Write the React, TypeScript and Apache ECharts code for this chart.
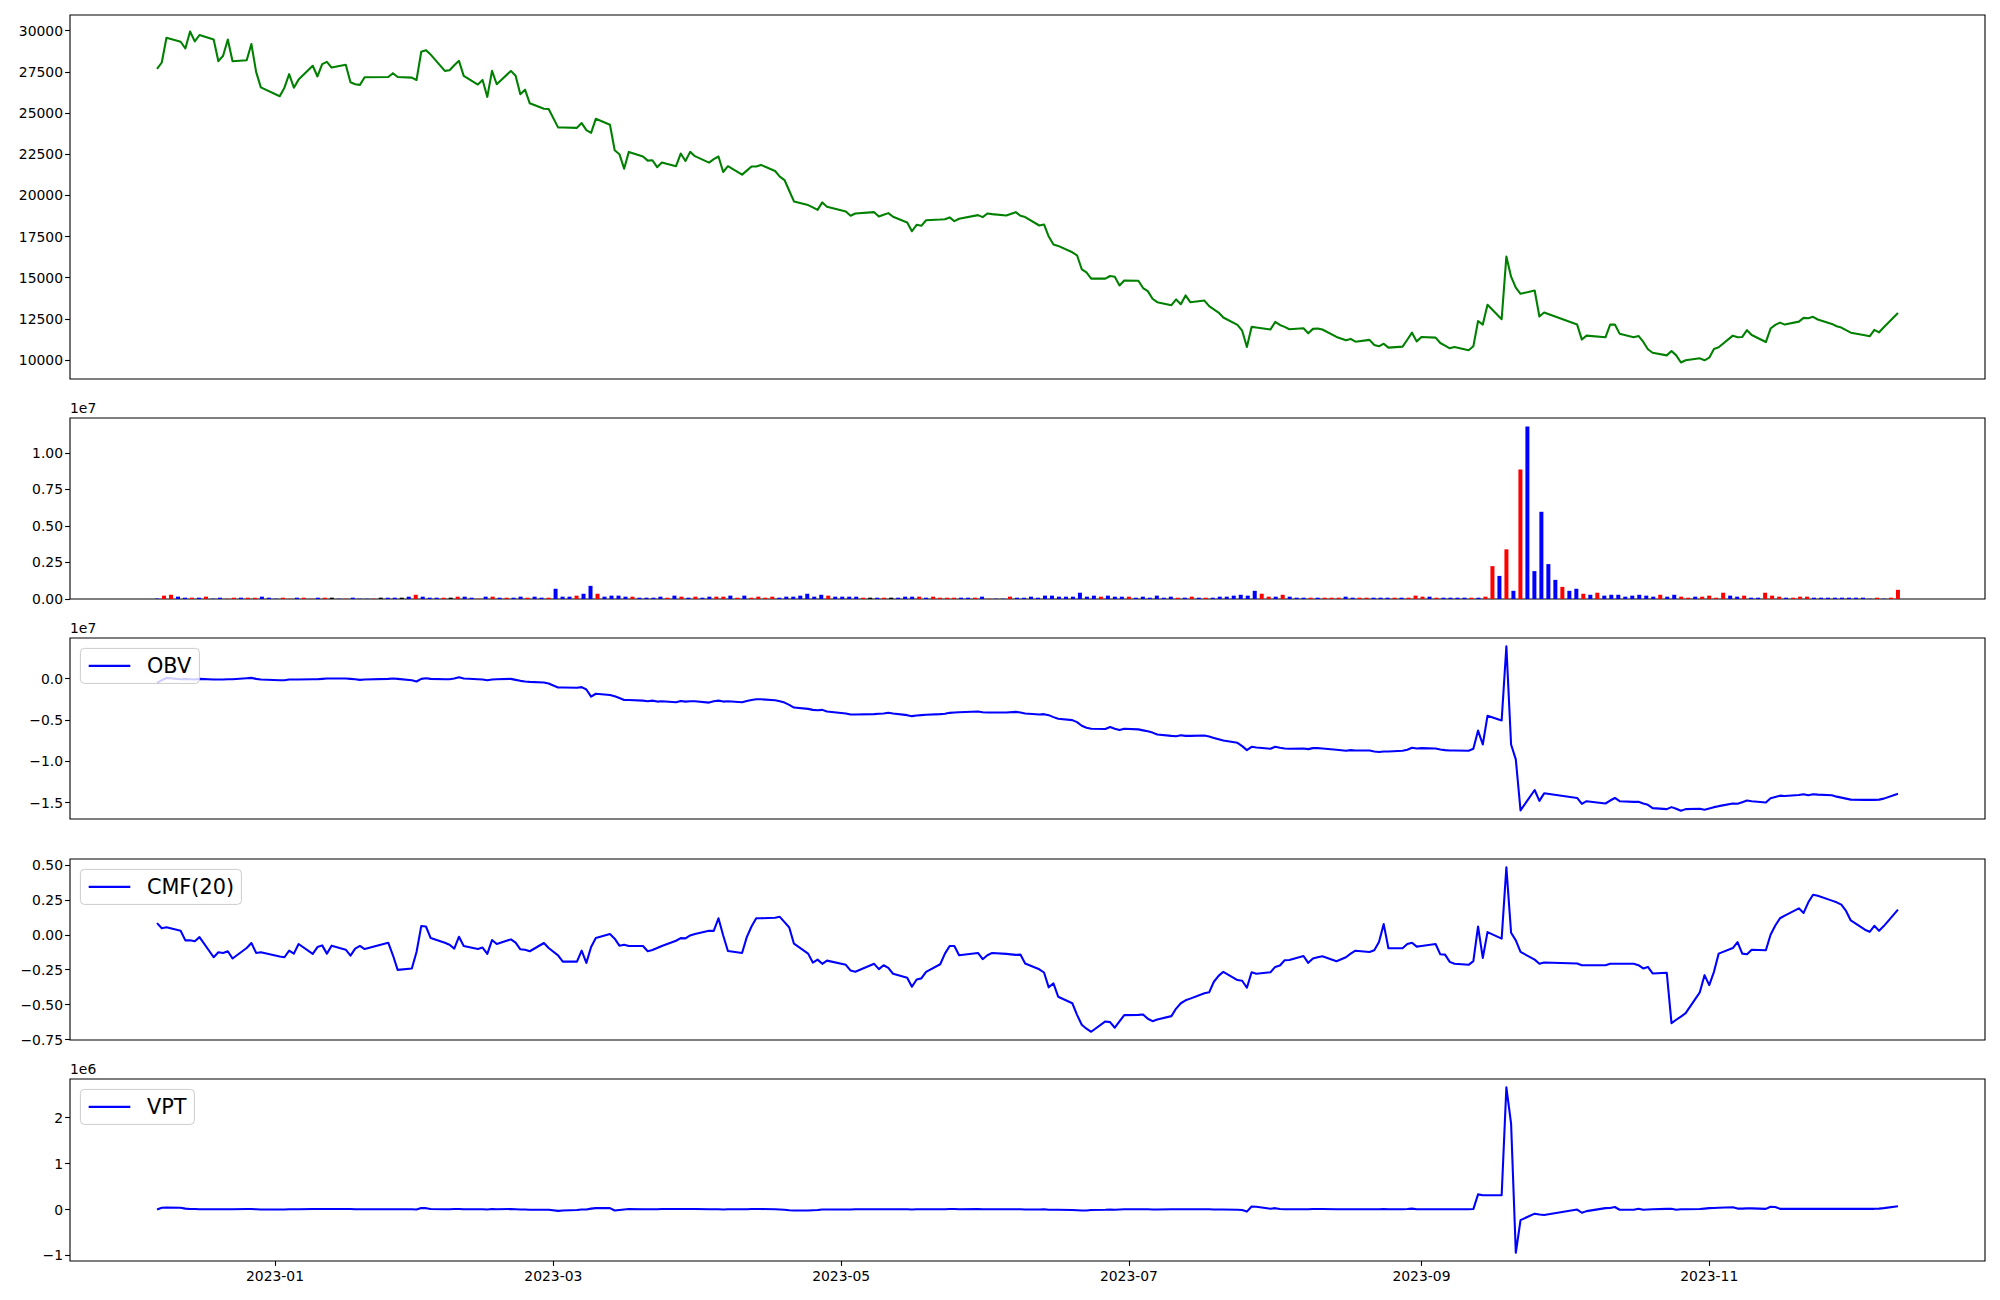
import React, { useEffect, useRef } from "react";
import * as echarts from "echarts";

// ---------------- DATA ----------------
const dates = [
  "2022-12-07","2022-12-08","2022-12-09","2022-12-12","2022-12-13","2022-12-14","2022-12-15","2022-12-16","2022-12-19","2022-12-20","2022-12-21","2022-12-22","2022-12-23","2022-12-26","2022-12-27","2022-12-28","2022-12-29",
  "2023-01-02","2023-01-03","2023-01-04","2023-01-05","2023-01-06","2023-01-09","2023-01-10","2023-01-11","2023-01-12","2023-01-13","2023-01-16","2023-01-17","2023-01-18","2023-01-19","2023-01-20","2023-01-25","2023-01-26","2023-01-27","2023-01-30","2023-01-31",
  "2023-02-01","2023-02-02","2023-02-03","2023-02-06","2023-02-07","2023-02-08","2023-02-09","2023-02-10","2023-02-13","2023-02-14","2023-02-15","2023-02-16","2023-02-17","2023-02-20","2023-02-21","2023-02-22","2023-02-23","2023-02-24","2023-02-27","2023-02-28",
  "2023-03-02","2023-03-03","2023-03-06","2023-03-07","2023-03-08","2023-03-09","2023-03-10","2023-03-13","2023-03-14","2023-03-15","2023-03-16","2023-03-17","2023-03-20","2023-03-21","2023-03-22","2023-03-23","2023-03-24","2023-03-27","2023-03-28","2023-03-29","2023-03-30","2023-03-31",
  "2023-04-03","2023-04-04","2023-04-05","2023-04-06","2023-04-07","2023-04-10","2023-04-11","2023-04-12","2023-04-13","2023-04-14","2023-04-17","2023-04-18","2023-04-19","2023-04-20","2023-04-21","2023-04-24","2023-04-25","2023-04-26","2023-04-27","2023-04-28",
  "2023-05-02","2023-05-03","2023-05-04","2023-05-08","2023-05-09","2023-05-10","2023-05-11","2023-05-12","2023-05-15","2023-05-16","2023-05-17","2023-05-18","2023-05-19","2023-05-22","2023-05-23","2023-05-24","2023-05-25","2023-05-26","2023-05-30","2023-05-31",
  "2023-06-01","2023-06-02","2023-06-05","2023-06-07","2023-06-08","2023-06-09","2023-06-12","2023-06-13","2023-06-14","2023-06-15","2023-06-16","2023-06-19","2023-06-20","2023-06-21","2023-06-22","2023-06-23","2023-06-26","2023-06-27","2023-06-28","2023-06-29","2023-06-30",
  "2023-07-03","2023-07-04","2023-07-05","2023-07-06","2023-07-07","2023-07-10","2023-07-11","2023-07-12","2023-07-13","2023-07-14","2023-07-17","2023-07-18","2023-07-19","2023-07-20","2023-07-21","2023-07-24","2023-07-25","2023-07-26","2023-07-27","2023-07-28","2023-07-31",
  "2023-08-01","2023-08-02","2023-08-03","2023-08-04","2023-08-07","2023-08-08","2023-08-09","2023-08-10","2023-08-11","2023-08-14","2023-08-16","2023-08-17","2023-08-18","2023-08-21","2023-08-22","2023-08-23","2023-08-24","2023-08-25","2023-08-28","2023-08-29","2023-08-30","2023-08-31",
  "2023-09-01","2023-09-04","2023-09-05","2023-09-06","2023-09-07","2023-09-08","2023-09-11","2023-09-12","2023-09-13","2023-09-14","2023-09-15","2023-09-18","2023-09-19","2023-09-20","2023-09-21","2023-09-22","2023-09-25","2023-09-26","2023-09-27",
  "2023-10-04","2023-10-05","2023-10-06","2023-10-10","2023-10-11","2023-10-12","2023-10-13","2023-10-16","2023-10-17","2023-10-18","2023-10-19","2023-10-20","2023-10-23","2023-10-24","2023-10-25","2023-10-26","2023-10-27","2023-10-30","2023-10-31",
  "2023-11-01","2023-11-02","2023-11-03","2023-11-06","2023-11-07","2023-11-08","2023-11-09","2023-11-10","2023-11-13","2023-11-14","2023-11-15","2023-11-16","2023-11-17","2023-11-20","2023-11-21","2023-11-22","2023-11-23","2023-11-24","2023-11-27","2023-11-28","2023-11-29","2023-11-30",
  "2023-12-01","2023-12-04","2023-12-05","2023-12-06","2023-12-07","2023-12-08","2023-12-11"
];

const closePrice = [
  27680,28070,29570,29330,28920,29950,29350,29740,29470,28150,28480,29470,28150,28210,29190,27500,26560,
  26020,26540,27360,26540,27030,27870,27220,27970,28110,27760,27930,26870,26750,26710,27170,27190,27420,27190,27150,27010,
  28720,28820,28550,27560,27600,27900,28170,27260,26730,27010,25980,27560,26750,27560,27260,26140,26420,25590,25260,25240,
  24130,24120,24100,24390,23960,23800,24650,24290,22740,22500,21620,22640,22360,22110,22130,21710,21990,21770,22540,22090,22640,22380,
  21990,22200,22360,21420,21770,21260,21500,21750,21750,21850,21480,21140,20930,20280,19630,19410,19270,19120,19570,19310,
  19020,18760,18900,18980,18720,18820,18920,18700,18350,17820,18210,18150,18490,18530,18550,18660,18430,18580,18800,18680,
  18900,18860,18780,18980,18760,18680,18170,18230,17500,17010,16930,16540,16360,15510,15320,14940,14940,15100,15060,14530,14830,
  14810,14370,14180,13720,13510,13330,13680,13390,13920,13510,13610,13270,13070,12880,12580,12130,11780,10790,12010,11970,11850,
  12310,12130,12010,11870,11930,11620,11890,11910,11850,11400,11200,11280,11110,11220,10910,10830,10990,10750,10810,11230,11660,11130,
  11400,11360,11030,10870,10710,10790,10590,10830,12370,12150,13350,12480,16280,15060,14390,14020,14220,12640,12880,
  12150,11240,11480,11380,12150,12150,11600,11380,11460,11110,10650,10440,10280,10540,10280,9850,9980,10100,9980,
  10140,10670,10770,11480,11380,11400,11810,11520,11090,11910,12130,12270,12150,12330,12560,12540,12620,12460,12190,12050,11970,11810,
  11660,11500,11440,11830,11680,11990,12860
];

const volume = [
  30000,230000,290000,160000,90000,90000,90000,160000,20000,90000,
  20000,90000,90000,90000,90000,160000,90000,20000,90000,20000,
  90000,90000,20000,90000,90000,90000,20000,20000,90000,20000,
  20000,20000,90000,90000,90000,90000,160000,290000,160000,90000,
  90000,90000,90000,160000,160000,90000,20000,160000,160000,90000,
  90000,90000,160000,90000,160000,90000,90000,700000,160000,160000,
  230000,360000,900000,360000,160000,230000,230000,160000,160000,90000,
  90000,90000,160000,90000,230000,160000,90000,160000,90000,160000,
  160000,160000,230000,90000,230000,90000,160000,90000,160000,90000,
  160000,160000,230000,360000,160000,290000,230000,160000,160000,160000,
  160000,90000,90000,90000,90000,90000,90000,160000,160000,160000,
  90000,160000,90000,90000,90000,90000,90000,90000,160000,20000,
  20000,20000,160000,90000,90000,160000,90000,230000,230000,160000,
  160000,160000,430000,160000,230000,160000,230000,160000,160000,160000,
  90000,160000,90000,230000,90000,160000,90000,90000,160000,90000,
  90000,90000,160000,160000,230000,290000,230000,560000,360000,160000,
  160000,290000,160000,90000,90000,90000,90000,90000,90000,90000,
  160000,90000,90000,90000,90000,90000,90000,90000,90000,90000,
  230000,160000,160000,90000,90000,90000,90000,90000,90000,90000,
  160000,2250000,1580000,3400000,560000,8870000,11800000,1910000,5970000,2390000,
  1310000,830000,560000,700000,360000,290000,430000,230000,290000,290000,
  160000,230000,290000,230000,160000,290000,160000,290000,160000,90000,
  160000,160000,230000,90000,430000,230000,160000,230000,90000,90000,
  430000,230000,160000,90000,90000,160000,160000,90000,90000,90000,
  90000,90000,90000,90000,90000,20000,90000,20000,90000,630000
];

// r = up (red), b = down (blue), k = unchanged (black)
const volumeDir = [
  "b","r","r","b","b","r","b","r","b","b",
  "r","r","b","r","r","b","b","b","r","r",
  "b","r","r","b","r","k","b","r","b","b",
  "b","r","k","b","b","k","b","r","b","b",
  "b","r","k","r","b","b","r","b","r","b",
  "r","b","b","r","b","b","r","b","b","b",
  "r","b","b","r","b","b","b","b","r","b",
  "b","b","b","r","b","r","b","r","b","b",
  "r","r","b","r","b","r","r","r","r","b",
  "b","b","b","b","b","b","r","b","b","b",
  "b","r","k","b","r","k","b","b","b","r",
  "b","r","r","r","r","b","b","r","b","r",
  "b","b","r","b","b","b","b","b","b","b",
  "b","b","b","b","b","r","b","b","b","r",
  "b","b","b","b","b","b","r","b","r","b",
  "r","b","b","b","b","b","b","b","r","r",
  "b","r","b","b","b","r","b","r","r","r",
  "b","b","r","r","b","b","b","r","b","r",
  "r","r","b","r","b","b","b","b","r","b",
  "r","r","b","r","b","r","b","b","b","b",
  "b","r","b","b","r","b","r","b","b","b",
  "b","b","b","b","b","r","b","b","r","r",
  "b","r","r","r","r","b","b","r","b","b",
  "r","r","r","b","r","r","r","b","b","b",
  "b","b","b","b","b","b","r","b","r","r"
];

const obv = [
  -0.052e7,-0.020e7,0.008e7,-0.008e7,-0.004e7,-0.008e7,-0.012e7,-0.004e7,-0.012e7,-0.012e7,-0.012e7,-0.008e7,-0.008e7,0.004e7,0.008e7,-0.004e7,-0.012e7,
  -0.020e7,-0.020e7,-0.012e7,-0.012e7,-0.012e7,-0.008e7,-0.008e7,-0.004e7,0,0,0,-0.004e7,-0.008e7,-0.016e7,-0.012e7,-0.004e7,0,-0.004e7,-0.020e7,-0.036e7,
  -0.004e7,0.004e7,-0.004e7,-0.008e7,-0.008e7,0,0.016e7,0,-0.008e7,-0.012e7,-0.020e7,-0.012e7,-0.008e7,-0.004e7,-0.016e7,-0.028e7,-0.036e7,-0.040e7,-0.048e7,-0.060e7,
  -0.108e7,-0.108e7,-0.112e7,-0.104e7,-0.132e7,-0.219e7,-0.184e7,-0.200e7,-0.215e7,-0.235e7,-0.259e7,-0.259e7,-0.267e7,-0.275e7,-0.267e7,-0.279e7,-0.275e7,-0.287e7,-0.271e7,-0.279e7,-0.275e7,-0.275e7,
  -0.291e7,-0.275e7,-0.267e7,-0.279e7,-0.275e7,-0.287e7,-0.271e7,-0.259e7,-0.251e7,-0.251e7,-0.263e7,-0.275e7,-0.291e7,-0.319e7,-0.351e7,-0.367e7,-0.379e7,-0.383e7,-0.379e7,-0.399e7,
  -0.423e7,-0.435e7,-0.435e7,-0.431e7,-0.427e7,-0.423e7,-0.415e7,-0.423e7,-0.443e7,-0.455e7,-0.447e7,-0.443e7,-0.439e7,-0.431e7,-0.427e7,-0.415e7,-0.411e7,-0.407e7,-0.399e7,-0.407e7,
  -0.411e7,-0.411e7,-0.411e7,-0.403e7,-0.411e7,-0.423e7,-0.435e7,-0.431e7,-0.443e7,-0.467e7,-0.487e7,-0.503e7,-0.527e7,-0.571e7,-0.595e7,-0.607e7,-0.611e7,-0.587e7,-0.607e7,-0.623e7,-0.607e7,
  -0.615e7,-0.627e7,-0.638e7,-0.654e7,-0.678e7,-0.694e7,-0.698e7,-0.686e7,-0.694e7,-0.694e7,-0.690e7,-0.702e7,-0.718e7,-0.734e7,-0.750e7,-0.778e7,-0.818e7,-0.866e7,-0.826e7,-0.834e7,-0.850e7,
  -0.826e7,-0.838e7,-0.846e7,-0.850e7,-0.846e7,-0.854e7,-0.842e7,-0.842e7,-0.846e7,-0.862e7,-0.874e7,-0.866e7,-0.870e7,-0.870e7,-0.882e7,-0.890e7,-0.882e7,-0.882e7,-0.874e7,-0.862e7,-0.838e7,-0.846e7,
  -0.842e7,-0.846e7,-0.858e7,-0.866e7,-0.870e7,-0.870e7,-0.874e7,-0.850e7,-0.630e7,-0.798e7,-0.451e7,-0.507e7,0.391e7,-0.798e7,-0.978e7,-1.596e7,-1.349e7,-1.480e7,-1.389e7,
  -1.445e7,-1.516e7,-1.484e7,-1.512e7,-1.476e7,-1.445e7,-1.484e7,-1.492e7,-1.492e7,-1.512e7,-1.528e7,-1.568e7,-1.580e7,-1.556e7,-1.576e7,-1.600e7,-1.580e7,-1.576e7,-1.588e7,
  -1.572e7,-1.556e7,-1.544e7,-1.512e7,-1.516e7,-1.496e7,-1.476e7,-1.484e7,-1.500e7,-1.449e7,-1.433e7,-1.417e7,-1.421e7,-1.409e7,-1.401e7,-1.413e7,-1.401e7,-1.405e7,-1.413e7,-1.429e7,-1.441e7,-1.453e7,
  -1.465e7,-1.468e7,-1.468e7,-1.468e7,-1.465e7,-1.453e7,-1.393e7
];

const cmf20 = [
  0.083,0.047,0.054,0.028,-0.040,-0.040,-0.047,-0.017,-0.161,-0.125,-0.130,-0.118,-0.170,-0.095,-0.059,-0.130,-0.125,
  -0.156,-0.161,-0.114,-0.135,-0.066,-0.137,-0.088,-0.076,-0.135,-0.078,-0.107,-0.149,-0.099,-0.080,-0.102,-0.057,-0.147,-0.251,-0.241,-0.123,
  0.062,0.059,-0.024,-0.057,-0.071,-0.099,-0.014,-0.080,-0.102,-0.092,-0.137,-0.038,-0.066,-0.033,-0.057,-0.104,-0.107,-0.118,-0.059,-0.095,
  -0.147,-0.192,-0.192,-0.114,-0.201,-0.088,-0.024,0.005,-0.028,-0.078,-0.071,-0.080,-0.080,-0.118,-0.109,-0.095,-0.080,-0.043,-0.024,-0.026,-0.005,0.005,
  0.028,0.028,0.118,-0.005,-0.116,-0.130,-0.017,0.059,0.118,0.118,0.121,0.128,0.090,0.052,-0.064,-0.135,-0.199,-0.178,-0.208,-0.185,
  -0.215,-0.256,-0.265,-0.208,-0.246,-0.218,-0.237,-0.279,-0.308,-0.372,-0.320,-0.312,-0.265,-0.211,-0.135,-0.080,-0.080,-0.147,-0.130,-0.175,
  -0.147,-0.130,-0.137,-0.144,-0.142,-0.206,-0.247,-0.270,-0.376,-0.348,-0.443,-0.490,-0.573,-0.644,-0.672,-0.694,-0.620,-0.625,-0.665,-0.620,-0.575,
  -0.573,-0.571,-0.601,-0.618,-0.606,-0.582,-0.528,-0.490,-0.469,-0.457,-0.419,-0.412,-0.336,-0.294,-0.265,-0.324,-0.329,-0.379,-0.268,-0.279,-0.268,
  -0.230,-0.220,-0.182,-0.180,-0.152,-0.201,-0.170,-0.161,-0.154,-0.189,-0.161,-0.135,-0.114,-0.123,-0.111,-0.052,0.076,-0.097,-0.097,-0.066,-0.057,-0.085,
  -0.080,-0.066,-0.140,-0.142,-0.194,-0.208,-0.215,-0.189,0.059,-0.166,0.019,-0.028,0.483,0.014,-0.040,-0.123,-0.178,-0.208,-0.199,
  -0.206,-0.218,-0.218,-0.218,-0.208,-0.208,-0.208,-0.208,-0.218,-0.241,-0.230,-0.277,-0.272,-0.632,-0.608,-0.585,-0.561,-0.412,-0.289,
  -0.360,-0.265,-0.135,-0.095,-0.052,-0.135,-0.140,-0.107,-0.111,0.000,0.066,0.118,0.137,0.189,0.156,0.232,0.286,0.279,0.244,0.232,0.215,0.170,
  0.102,0.036,0.021,0.064,0.028,0.062,0.180
];

const vpt = [
  0,0.04e6,0.045e6,0.04e6,0.02e6,0.01e6,0.01e6,0.005e6,0.005e6,0.005e6,0.005e6,0.005e6,0.005e6,0.01e6,0.01e6,0.005e6,0,
  0,0,0.005e6,0.005e6,0.005e6,0.01e6,0.01e6,0.01e6,0.01e6,0.01e6,0.01e6,0.01e6,0.005e6,0.005e6,0.005e6,0.005e6,0.005e6,0.005e6,0.005e6,0,
  0.035e6,0.03e6,0.01e6,0.005e6,0.005e6,0.01e6,0.01e6,0.005e6,0.005e6,0.005e6,0,0.01e6,0.005e6,0.01e6,0.005e6,0,0,-0.005e6,-0.005e6,-0.005e6,
  -0.03e6,-0.02e6,-0.01e6,0,0,0.02e6,0.03e6,0.03e6,-0.02e6,-0.01e6,0,0.01e6,0.005e6,0.005e6,0.005e6,0.005e6,0.01e6,0.01e6,0.01e6,0.01e6,0.01e6,0.01e6,
  0.005e6,0.005e6,0.005e6,0,0.005e6,0.005e6,0.005e6,0.01e6,0.01e6,0.01e6,0.005e6,0,-0.005e6,-0.015e6,-0.02e6,-0.02e6,-0.015e6,-0.01e6,0,0,
  0,0,0.005e6,0.005e6,0.005e6,0.005e6,0.005e6,0.005e6,0.005e6,0,0.005e6,0.005e6,0.005e6,0.005e6,0.005e6,0.01e6,0.01e6,0.005e6,0.01e6,0.005e6,
  0.005e6,0.005e6,0.005e6,0.005e6,0.005e6,0,0,0.005e6,-0.005e6,-0.005e6,-0.005e6,-0.01e6,-0.015e6,-0.02e6,-0.02e6,-0.01e6,-0.005e6,0,-0.005e6,0,0.005e6,
  0.005e6,0.005e6,0.005e6,0,0,0.005e6,0.005e6,0.005e6,0.005e6,0.005e6,0.005e6,0.005e6,0,0,0,-0.005e6,-0.01e6,-0.045e6,0.065e6,0.06e6,0.015e6,
  0.03e6,0.01e6,0.005e6,0.005e6,0.005e6,0.005e6,0.01e6,0.01e6,0.01e6,0.005e6,0.005e6,0.005e6,0.005e6,0.005e6,0.005e6,0.005e6,0.01e6,0.005e6,0.005e6,0.01e6,0.02e6,0.005e6,
  0.005e6,0.005e6,0.005e6,0.005e6,0.005e6,0.005e6,0.005e6,0.01e6,0.33e6,0.31e6,0.31e6,0.31e6,2.66e6,1.87e6,-0.94e6,-0.23e6,-0.09e6,-0.11e6,-0.12e6,
  0,-0.07e6,-0.035e6,0.03e6,0.035e6,0.055e6,-0.005e6,-0.005e6,0.015e6,-0.005e6,0,0.005e6,0.015e6,0.015e6,-0.005e6,0.005e6,0.005e6,0.01e6,0.02e6,
  0.03e6,0.035e6,0.04e6,0.05e6,0.02e6,0.02e6,0.025e6,0.025e6,0.015e6,0.06e6,0.055e6,0.015e6,0.015e6,0.015e6,0.015e6,0.015e6,0.015e6,0.015e6,0.015e6,0.015e6,0.015e6,0.015e6,
  0.015e6,0.015e6,0.015e6,0.015e6,0.02e6,0.03e6,0.07e6
];

const xTickDates = ["2023-01-01","2023-03-01","2023-05-01","2023-07-01","2023-09-01","2023-11-01"];
const priceTicks = [10000,12500,15000,17500,20000,22500,25000,27500,30000];
const volumeTicks = [0,0.25e7,0.5e7,0.75e7,1.0e7];
const obvTicks = [0,-0.5e7,-1.0e7,-1.5e7];
const cmfTicks = [0.5,0.25,0,-0.25,-0.5,-0.75];
const vptTicks = [2e6,1e6,0,-1e6];
const legendNames = ["OBV","CMF(20)","VPT"];

// ---------------- HELPERS ----------------
const FONT = '"DejaVu Sans", Verdana, sans-serif';
const LW = 2.08; // 1.5pt at 100 dpi
const toTs = (s: string) => {
  const [y, m, d] = s.split("-").map(Number);
  return Date.UTC(y, m - 1, d);
};
const minus = (s: string) => s.replace("-", "\u2212");
const padRange = (arr: number[]) => {
  let mn = Infinity, mx = -Infinity;
  arr.forEach(v => { if (v < mn) mn = v; if (v > mx) mx = v; });
  const r = mx - mn;
  return [mn - 0.05 * r, mx + 0.05 * r];
};

export default function App() {
  const ref = useRef<HTMLDivElement>(null);

  useEffect(() => {
    if (!ref.current) return;
    const chart = echarts.init(ref.current, undefined, { renderer: "svg" });

    const ts = dates.map(toTs);
    const n = ts.length;
    const span = ts[n - 1] - ts[0];
    const xMin = ts[0] - 0.05 * span;
    const xMax = ts[n - 1] + 0.05 * span;
    const idxMin = -0.05 * (n - 1);
    const idxMax = (n - 1) * 1.05;
    const tickTs = xTickDates.map(toTs);

    const L = 70, W = 1915;
    const grids = [
      { top: 15, height: 364 },
      { top: 418, height: 181 },
      { top: 638, height: 181 },
      { top: 859, height: 181 },
      { top: 1079, height: 182 },
    ];

    const [pMin, pMax] = padRange(closePrice);
    const vMax = Math.max(...volume) * 1.05;
    const [oMin, oMax] = padRange(obv);
    const [cMin, cMax] = padRange(cmf20);
    const [tMin, tMax] = padRange(vpt);

    const labelStyle = { color: "#000", fontSize: 13.9, fontFamily: FONT };
    const tickStyle = { lineStyle: { color: "#000", width: 1.1 } };

    const mkY = (i: number, min: number, max: number, ticks: number[], fmt: (v: number) => string) => ({
      type: "value",
      gridIndex: i,
      position: "left",
      min,
      max,
      axisLine: { show: false, onZero: false },
      splitLine: { show: false },
      axisTick: { show: true, length: 4.9, inside: false, customValues: ticks, ...tickStyle },
      axisLabel: { show: true, margin: 7, customValues: ticks, formatter: fmt, ...labelStyle },
    });

    const mkX = (i: number, isIndex: boolean, bottom: boolean) => ({
      type: "value",
      gridIndex: i,
      position: "bottom",
      min: isIndex ? idxMin : xMin,
      max: isIndex ? idxMax : xMax,
      axisLine: { show: false, onZero: false },
      splitLine: { show: false },
      axisTick: bottom
        ? { show: true, length: 4.9, inside: false, customValues: tickTs, ...tickStyle }
        : { show: false },
      axisLabel: bottom
        ? {
            show: true,
            margin: 8,
            customValues: tickTs,
            formatter: (v: number) => {
              const d = new Date(v);
              return d.getUTCFullYear() + "-" + String(d.getUTCMonth() + 1).padStart(2, "0");
            },
            ...labelStyle,
          }
        : { show: false },
    });

    const colorMap: Record<string, string> = { r: "#ff0000", b: "#0000ff", k: "#000000" };
    const lineSeries = (i: number, vals: number[], color: string, name: string) => ({
      type: "line",
      name,
      xAxisIndex: i,
      yAxisIndex: i,
      data: ts.map((t, k) => [t, vals[k]]),
      symbol: "none",
      showSymbol: false,
      lineStyle: { color, width: LW, join: "round" },
      itemStyle: { color },
      silent: true,
    });

    const legendBox = (top: number, text: string, w: number) => {
      const bx = L + 10.4, by = top + 10.4, h = 35;
      const cy = by + h / 2;
      return [
        { type: "rect", shape: { x: bx, y: by, width: w, height: h, r: 4 }, style: { fill: "rgba(255,255,255,0.8)", stroke: "#cccccc", lineWidth: 1 }, z: 100 },
        { type: "line", shape: { x1: bx + 8.3, y1: cy, x2: bx + 8.3 + 41.6, y2: cy }, style: { stroke: "#0000ff", lineWidth: LW }, z: 101 },
        { type: "text", x: bx + 8.3 + 41.6 + 16.6, y: cy, style: { text, fill: "#000", fontSize: 20.8, fontFamily: FONT, verticalAlign: "middle", align: "left" }, z: 101 },
      ];
    };
    const offsetText = (top: number, text: string) => ({
      type: "text",
      x: L,
      y: top - 3,
      style: { text, fill: "#000", fontSize: 13.9, fontFamily: FONT, verticalAlign: "bottom", align: "left" },
      z: 100,
    });

    const option = {
      animation: false,
      backgroundColor: "#ffffff",
      grid: grids.map(g => ({ left: L, width: W, top: g.top, height: g.height, show: true, borderColor: "#000", borderWidth: 1.1, backgroundColor: "transparent" })),
      xAxis: [mkX(0, false, false), mkX(1, true, false), mkX(2, false, false), mkX(3, false, false), mkX(4, false, true)],
      yAxis: [
        mkY(0, pMin, pMax, priceTicks, v => String(v)),
        mkY(1, 0, vMax, volumeTicks, v => (v / 1e7).toFixed(2)),
        mkY(2, oMin, oMax, obvTicks, v => minus((v / 1e7).toFixed(1))),
        mkY(3, cMin, cMax, cmfTicks, v => minus(v.toFixed(2))),
        mkY(4, tMin, tMax, vptTicks, v => minus(String(Math.round(v / 1e6)))),
      ],
      series: [
        lineSeries(0, closePrice, "#008000", "Close"),
        {
          type: "bar",
          name: "Volume",
          xAxisIndex: 1,
          yAxisIndex: 1,
          barWidth: 4,
          silent: true,
          data: volume.map((v, k) => ({ value: [k, v], itemStyle: { color: colorMap[volumeDir[k]] } })),
        },
        lineSeries(2, obv, "#0000ff", legendNames[0]),
        lineSeries(3, cmf20, "#0000ff", legendNames[1]),
        lineSeries(4, vpt, "#0000ff", legendNames[2]),
      ],
      graphic: [
        offsetText(grids[1].top, "1e7"),
        offsetText(grids[2].top, "1e7"),
        offsetText(grids[4].top, "1e6"),
        ...legendBox(grids[2].top, legendNames[0], 119),
        ...legendBox(grids[3].top, legendNames[1], 161),
        ...legendBox(grids[4].top, legendNames[2], 114),
      ],
    };

    chart.setOption(option as any);
    return () => chart.dispose();
  }, []);

  return (
    <div
      ref={ref}
      style={{ position: "fixed", left: 0, top: 0, width: 2000, height: 1300, background: "#ffffff" }}
    />
  );
}
